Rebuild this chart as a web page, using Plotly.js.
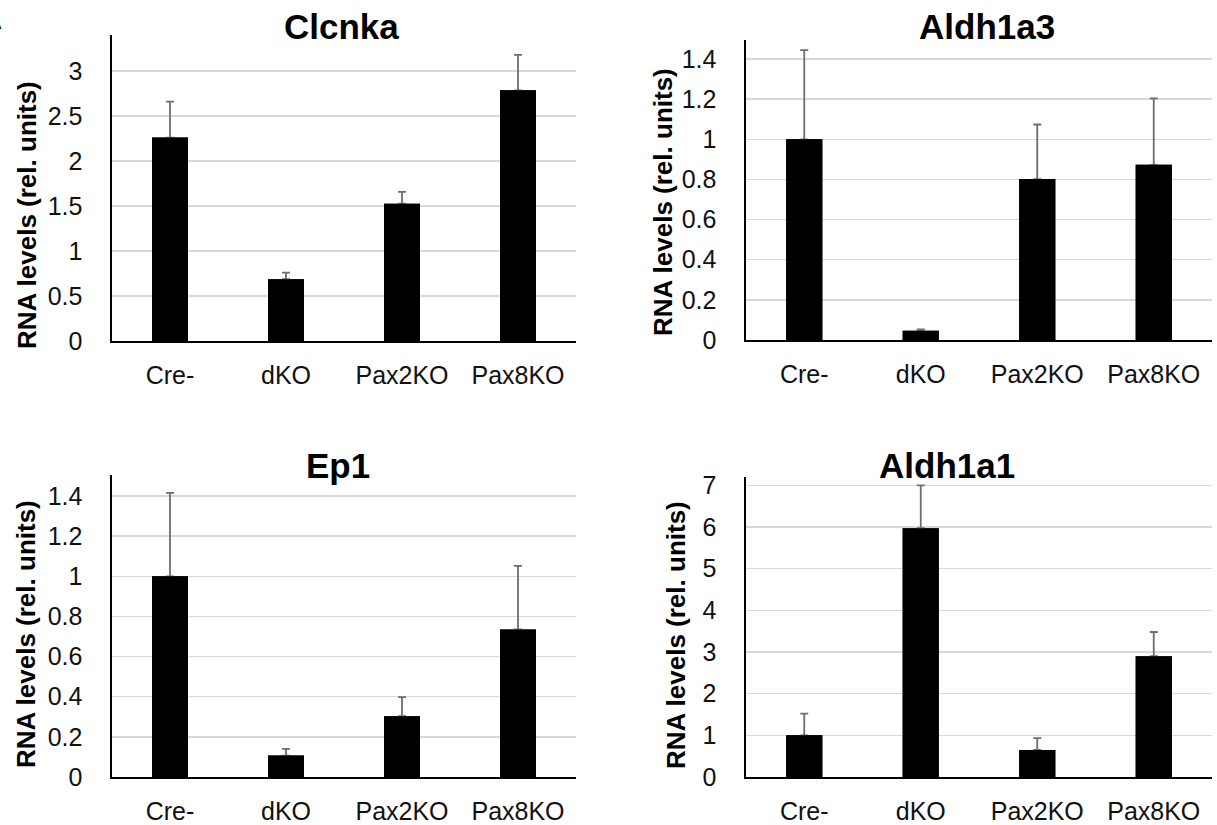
<!DOCTYPE html>
<html>
<head>
<meta charset="utf-8">
<script src="https://cdn.plot.ly/plotly-3.0.1.min.js"></script>
<style>html,body{margin:0;padding:0;background:#fff;}#chart{width:1217px;height:825px;}</style>
</head>
<body>
<div id="chart"></div>
<script>
// ---- data ----
var categories = ["Cre-", "dKO", "Pax2KO", "Pax8KO"];

var clcnkaValues = [2.26, 0.686, 1.526, 2.785];
var clcnkaErrors = [0.40, 0.074, 0.13, 0.395];

var aldh1a3Values = [1.0, 0.046, 0.802, 0.873];
var aldh1a3Errors = [0.445, 0.007, 0.272, 0.331];

var ep1Values = [1.0, 0.107, 0.303, 0.735];
var ep1Errors = [0.416, 0.033, 0.095, 0.317];

var aldh1a1Values = [1.0, 5.97, 0.65, 2.90];
var aldh1a1Errors = [0.52, 1.03, 0.285, 0.58];

var titles = ["Clcnka", "Aldh1a3", "Ep1", "Aldh1a1"];
var yTitle = "RNA levels (rel. units)";

var tickValsA = [0, 0.5, 1, 1.5, 2, 2.5, 3];
var tickTextA = ["0", "0.5", "1", "1.5", "2", "2.5", "3"];
var tickValsB = [0, 0.2, 0.4, 0.6, 0.8, 1, 1.2, 1.4];
var tickTextB = ["0", "0.2", "0.4", "0.6", "0.8", "1", "1.2", "1.4"];
var tickValsC = [0, 1, 2, 3, 4, 5, 6, 7];
var tickTextC = ["0", "1", "2", "3", "4", "5", "6", "7"];

// ---- layout helpers ----
var W = 1217, H = 825;
function px(x) { return x / W; }
function py(y) { return 1 - y / H; }

var FONT = "Liberation Sans, Arial, Helvetica, sans-serif";

// error bar (upper only) drawn first, the bar itself drawn on top so
// no lower cap shows on the bar's top edge
function errTrace(values, errors, xa, ya) {
  return {
    type: "bar",
    x: categories,
    y: values,
    xaxis: xa,
    yaxis: ya,
    width: 0.31,
    marker: { color: "#000000", line: { width: 0 } },
    error_y: {
      type: "data",
      symmetric: false,
      array: errors,
      arrayminus: errors.map(function () { return 0; }),
      color: "#6e6e6e",
      thickness: 1.8,
      width: 4
    },
    hoverinfo: "skip"
  };
}
function barTrace(values, xa, ya) {
  return {
    type: "bar",
    x: categories,
    y: values,
    xaxis: xa,
    yaxis: ya,
    width: 0.31,
    marker: { color: "#000000", line: { width: 0 } },
    hoverinfo: "x+y"
  };
}

function xAxis(x0, x1, anchor) {
  return {
    domain: [px(x0), px(x1)],
    anchor: anchor,
    type: "category",
    showline: true,
    linecolor: "#000000",
    linewidth: 1.6,
    showgrid: false,
    zeroline: false,
    ticks: "outside",
    ticklen: 11,
    tickcolor: "rgba(0,0,0,0)",
    tickfont: { family: FONT, size: 25, color: "#111111" },
    fixedrange: true
  };
}

function yAxis(y0, y1, range, tv, tt, anchor) {
  return {
    domain: [py(y1), py(y0)],
    anchor: anchor,
    range: range,
    tickvals: tv,
    ticktext: tt,
    showline: true,
    linecolor: "#000000",
    linewidth: 1.6,
    showgrid: true,
    gridcolor: "#d9d9d9",
    gridwidth: 1.5,
    zeroline: false,
    ticks: "outside",
    ticklen: 23,
    tickcolor: "rgba(0,0,0,0)",
    tickfont: { family: FONT, size: 25, color: "#111111" },
    fixedrange: true
  };
}

var data = [
  errTrace(clcnkaValues, clcnkaErrors, "x", "y"),
  barTrace(clcnkaValues, "x", "y"),
  errTrace(aldh1a3Values, aldh1a3Errors, "x2", "y2"),
  barTrace(aldh1a3Values, "x2", "y2"),
  errTrace(ep1Values, ep1Errors, "x3", "y3"),
  barTrace(ep1Values, "x3", "y3"),
  errTrace(aldh1a1Values, aldh1a1Errors, "x4", "y4"),
  barTrace(aldh1a1Values, "x4", "y4")
];

function titleAnn(text, x, y) {
  return {
    text: "<b>" + text + "</b>", xref: "paper", yref: "paper",
    x: px(x), y: py(y), xanchor: "center", yanchor: "middle",
    showarrow: false,
    font: { family: FONT, size: 35, color: "#000000" }
  };
}
function yTitleAnn(x, y) {
  return {
    text: "<b>" + yTitle + "</b>", xref: "paper", yref: "paper",
    x: px(x), y: py(y), xanchor: "center", yanchor: "middle",
    textangle: -90, showarrow: false,
    font: { family: FONT, size: 26, color: "#000000" }
  };
}

var layout = {
  width: W,
  height: H,
  margin: { l: 0, r: 0, t: 0, b: 0 },
  paper_bgcolor: "#ffffff",
  plot_bgcolor: "rgba(0,0,0,0)",
  showlegend: false,
  barmode: "overlay",
  xaxis: xAxis(112, 576, "y"),
  yaxis: yAxis(35, 341, [0, 3.4], tickValsA, tickTextA, "x"),
  xaxis2: xAxis(746, 1212, "y2"),
  yaxis2: yAxis(40, 340, [0, 1.495], tickValsB, tickTextB, "x2"),
  xaxis3: xAxis(112, 576, "y3"),
  yaxis3: yAxis(475, 777, [0, 1.505], tickValsB, tickTextB, "x3"),
  xaxis4: xAxis(746, 1212, "y4"),
  yaxis4: yAxis(477, 777, [0, 7.2], tickValsC, tickTextC, "x4"),
  annotations: [
    titleAnn(titles[0], 341, 27),
    titleAnn(titles[1], 987, 27),
    titleAnn(titles[2], 338, 465),
    titleAnn(titles[3], 947, 465),
    yTitleAnn(27, 215),
    yTitleAnn(663, 202),
    yTitleAnn(26, 634),
    yTitleAnn(676, 635),
    {
      text: "<b>A</b>", xref: "paper", yref: "paper",
      x: px(4), y: py(21), xanchor: "right", yanchor: "middle",
      showarrow: false,
      font: { family: FONT, size: 22, color: "#000000" }
    }
  ]
};

Plotly.newPlot("chart", data, layout, { displayModeBar: false, staticPlot: true });
</script>
</body>
</html>
